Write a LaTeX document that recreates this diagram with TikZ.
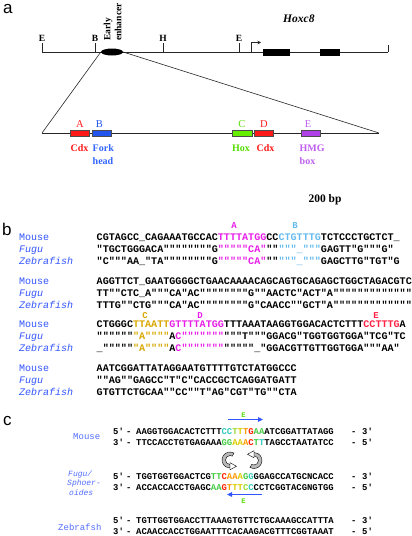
\documentclass[tikz,border=0pt]{standalone}
\usepackage{fontspec}
\setmainfont{Liberation Serif}
\setsansfont{Liberation Sans}
\setmonofont{Liberation Mono}
\usetikzlibrary{arrows.meta,shapes.geometric}
\definecolor{spblue}{HTML}{3355FF}
\definecolor{seqmag}{HTML}{E81EE8}
\definecolor{seqlb}{HTML}{66BBEE}
\definecolor{seqgold}{HTML}{D8A800}
\definecolor{seqred}{HTML}{FF2244}
\definecolor{boxred}{HTML}{FF1A1A}
\definecolor{boxblue}{HTML}{2255EE}
\definecolor{boxgreen}{HTML}{66EE00}
\definecolor{boxpurple}{HTML}{B040E8}
\definecolor{lblblue}{HTML}{3366FF}
\definecolor{lblgreen}{HTML}{55DD00}
\definecolor{lblpurple}{HTML}{C060F0}
\definecolor{ccyan}{HTML}{33CCBB}
\definecolor{clime}{HTML}{99DD33}
\definecolor{cyel}{HTML}{DDCC00}
\definecolor{corg}{HTML}{FF9900}
\definecolor{cred}{HTML}{FF2200}
\definecolor{cgrn}{HTML}{44CC44}
\definecolor{arrblue}{HTML}{3355FF}
\newcommand{\sqM}[1]{\textcolor{seqmag}{#1}}
\newcommand{\sqL}[1]{\textcolor{seqlb}{#1}}
\newcommand{\sqG}[1]{\textcolor{seqgold}{#1}}
\newcommand{\sqR}[1]{\textcolor{seqred}{#1}}
\newcommand{\ck}[2]{\textcolor{#1}{#2}}
\tikzset{
  gline/.style={line width=0.6pt, black!85},
  rtick/.style={gline},
  toplbl/.style={anchor=base, inner sep=0, font=\fontsize{9.5}{11}\selectfont\bfseries},
  exon/.style={fill=black, draw=black},
  tfbox/.style={draw=black!70, line width=0.5pt},
  boxletter/.style={inner sep=0, font=\fontsize{10.5}{12}\selectfont},
  tflbl/.style={anchor=base west, inner sep=0, font=\fontsize{10}{12}\selectfont\bfseries},
  panel/.style={anchor=base west, inner sep=0, font=\fontsize{17}{20}\selectfont\sffamily},
  seqb/.style={anchor=base west, inner sep=0, font=\fontsize{10.1}{12}\selectfont\ttfamily\bfseries},
  seqc/.style={anchor=base west, inner sep=0, font=\fontsize{8.9}{11}\selectfont\ttfamily\bfseries},
  spb/.style={anchor=base west, inner sep=0, text=spblue, font=\fontsize{10}{12}\selectfont\ttfamily},
  spbi/.style={spb, font=\fontsize{10}{12}\selectfont\ttfamily\itshape},
  spc/.style={anchor=base west, inner sep=0, text=spblue!85, font=\fontsize{9}{11}\selectfont\ttfamily},
  spci/.style={anchor=base west, inner sep=0, text=spblue!85, font=\fontsize{8}{9.5}\selectfont\ttfamily\itshape},
  seglbl/.style={inner sep=0, font=\fontsize{9}{11}\selectfont\ttfamily\bfseries},
  elbl/.style={inner sep=0, text=lblgreen, font=\fontsize{7}{8}\selectfont\ttfamily\bfseries},
  bluearrow/.style={arrblue, line width=1pt, -{Triangle[length=5pt,width=4.5pt]}},
  swaparrow/.pic={
    \filldraw[fill=gray!55, draw=black, line width=0.4pt]
      (-60:8) arc[start angle=-60, end angle=-270, radius=8]
      -- (-270:4.5) arc[start angle=-270, end angle=-60, radius=4.5] -- cycle;
    \filldraw[fill=white, draw=black, line width=0.4pt]
      (0,9.8) -- (0,2.7) -- (6.5,6.25) -- cycle;
  }
}
\begin{document}
\begin{tikzpicture}[x=1pt,y=-1pt]
\useasboundingbox (0,0) rectangle (412,536);
\fill[white] (0,0) rectangle (412,536);

% ---------------- panel a ----------------
\node[panel] (pa) at (3,13) {a};
\node[anchor=base west, inner sep=0, font=\fontsize{11.5}{13}\selectfont\bfseries\itshape] (hox) at (283,22) {Hoxc8};

\coordinate (mL) at (42,52);
\coordinate (mR) at (388,52);
\draw[gline] (mL) -- (mR);
\coordinate (tE1) at (42,43);
\coordinate (tB) at (95,43);
\coordinate (tH) at (163,43);
\coordinate (tE2) at (239,43);
\coordinate (tEnd) at (388,45);
\draw[rtick] (tE1) -- (42,52);
\draw[rtick] (tB) -- (95,52);
\draw[rtick] (tH) -- (163,52);
\draw[rtick] (tE2) -- (239,52);
\draw[rtick] (tEnd) -- (mR);
\node[toplbl] (lE1) at (42,41.5) {E};
\node[toplbl] (lB) at (95,41.5) {B};
\node[toplbl] (lH) at (163,41.5) {H};
\node[toplbl] (lE2) at (239,41.5) {E};

\coordinate (prS) at (251,52);
\coordinate (prE) at (261,42.5);
\draw[gline, -{Stealth[length=3.5pt,width=3.5pt]}] (prS) |- (prE);
\node[exon, minimum width=26pt, minimum height=6.3pt, inner sep=0, anchor=north west] (ex1) at (263,49) {};
\node[exon, minimum width=19pt, minimum height=6.3pt, inner sep=0, anchor=north west] (ex2) at (320,49) {};

\node[ellipse, fill=black, minimum width=22pt, minimum height=7pt, inner sep=0] (enh) at (112,52) {};
\node[rotate=90, anchor=west, align=left, inner sep=0, font=\fontsize{9.5}{11}\selectfont\bfseries] (enhlbl) at (112.5,41) {Early\\enhancer};

\coordinate (lL) at (42,133);
\coordinate (lR) at (379,133);
\draw[gline] (enh.west) -- (lL);
\draw[gline] (enh.east) -- (lR);
\draw[gline] (lL) -- (lR);

\node[tfbox, fill=boxred, minimum width=19pt, minimum height=6pt, inner sep=0, anchor=north west] (bA) at (70,130) {};
\node[tfbox, fill=boxblue, minimum width=18.5pt, minimum height=6pt, inner sep=0, anchor=north west] (bB) at (92,130) {};
\node[tfbox, fill=boxgreen, minimum width=19.5pt, minimum height=6pt, inner sep=0, anchor=north west] (bC) at (232,130) {};
\node[tfbox, fill=boxred, minimum width=19pt, minimum height=6pt, inner sep=0, anchor=north west] (bD) at (254,130) {};
\node[tfbox, fill=boxpurple, minimum width=19pt, minimum height=6pt, inner sep=0, anchor=north west] (bE) at (301,130) {};

\node[boxletter, text=boxred] (kA) at (80,124) {A};
\node[boxletter, text=boxblue] (kB) at (99.5,124) {B};
\node[boxletter, text=lblgreen] (kC) at (242,124) {C};
\node[boxletter, text=boxred] (kD) at (264,124) {D};
\node[boxletter, text=lblpurple] (kE) at (308,124) {E};

\node[tflbl, text=boxred] (cdx1) at (70.5,151) {Cdx};
\node[tflbl, text=lblblue, align=left] (fork) at (92.5,151) {Fork};
\node[tflbl, text=lblblue] (head) at (92.5,164) {head};
\node[tflbl, text=lblgreen] (hoxl) at (232,151) {Hox};
\node[tflbl, text=boxred] (cdx2) at (256.5,151) {Cdx};
\node[tflbl, text=lblpurple] (hmg) at (299.5,151) {HMG};
\node[tflbl, text=lblpurple] (boxl) at (299.5,164) {box};

\node[anchor=base, inner sep=0, font=\fontsize{11.5}{13}\selectfont\bfseries] (bp) at (325,202) {200 bp};

% ---------------- panel b ----------------
\node[panel] (pb) at (2,235) {b};

\node[seglbl, text=seqmag] (sA) at (234,226) {A};
\node[seglbl, text=seqlb] (sB) at (295,226) {B};
\node[spb] (m1) at (19,240.5) {Mouse};
\node[spbi] (f1) at (19,252.5) {Fugu};
\node[spbi] (z1) at (19,264.5) {Zebrafish};
\node[seqb] (ms1) at (96.5,240.5) {CGTAGCC\_CAGAAATGCCAC\sqM{TTTTATGG}CC\sqL{CTGTTTG}TCTCCCTGCTCT\_};
\node[seqb] (fs1) at (96.5,252.5) {"TGCTGGGACA""""""""G\sqM{"""""CA"}""\sqL{"""\_"""}GAGTT"G"""G"};
\node[seqb] (zs1) at (96.5,264.5) {"C"""AA\_"TA""""""""G\sqM{"""""CA"}""\sqL{"""\_"""}GAGCTTG"TGT"G};

\node[spb] (m2) at (19,284.5) {Mouse};
\node[spbi] (f2) at (19,296.5) {Fugu};
\node[spbi] (z2) at (19,308.5) {Zebrafish};
\node[seqb] (ms2) at (96.5,284.5) {AGGTTCT\_GAATGGGGCTGAACAAAACAGCAGTGCAGAGCTGGCTAGACGTC};
\node[seqb] (fs2) at (96.5,296.5) {TT""CTC\_A"""CA"AC""""""""G""AACTC"ACT"A"""""""""""""};
\node[seqb] (zs2) at (96.5,308.5) {TTTG""CTG"""CA"AC""""""""G"CAACC""GCT"A"""""""""""""};

\node[seglbl, text=seqgold] (sC) at (145,315.5) {C};
\node[seglbl, text=seqmag] (sD) at (200,315.5) {D};
\node[seglbl, text=seqred] (sE) at (376,315.5) {E};
\node[spb] (m3) at (19,327.5) {Mouse};
\node[spbi] (f3) at (19,339.5) {Fugu};
\node[spbi] (z3) at (19,351.5) {Zebrafish};
\node[seqb] (ms3) at (96.5,327.5) {CTGGGC\sqG{TTAATT}\sqM{GTTTTATGG}TTTAAATAAGGTGGACACTCTTT\sqR{CCTTTG}A};
\node[seqb] (fs3) at (96.5,339.5) {""""""\sqG{"A""""}A\sqM{C"""""""}"""T"""GGACG"TGGTGGTGGA"TCG"TC};
\node[seqb] (zs3) at (96.5,351.5) {\_"""""\sqG{"A""""}A\sqM{C"""""""}"""""\_"GGACGTTGTTGGTGGA"""AA"};

\node[spb] (m4) at (19,371.5) {Mouse};
\node[spbi] (f4) at (19,383.5) {Fugu};
\node[spbi] (z4) at (19,395.5) {Zebrafish};
\node[seqb] (ms4) at (96.5,371.5) {AATCGGATTATAGGAATGTTTTGTCTATGGCCC};
\node[seqb] (fs4) at (96.5,383.5) {""AG""GAGCC"T"C"CACCGCTCAGGATGATT};
\node[seqb] (zs4) at (96.5,395.5) {GTGTTCTGCAA""CC""T"AG"CGT"TG""CTA};

% ---------------- panel c ----------------
\node[panel] (pc) at (3,425) {c};

\coordinate (eTS) at (228,419.5);
\coordinate (eTE) at (263,419.5);
\draw[bluearrow] (eTS) -- (eTE);
\node[elbl] (eT) at (243.5,415) {E};

\node[spc] (cm) at (73,439.5) {Mouse};
\node[seqc] (p1a) at (113,434) {5'};
\node[seqc] (d1a) at (126,434) {-};
\node[seqc] (cms1) at (136,434) {AAGGTGGACACTCTTT\ck{ccyan}{C}\ck{ccyan}{C}\ck{clime}{T}\ck{cyel}{T}\ck{corg}{T}\ck{cred}{G}\ck{cgrn}{A}\ck{cgrn}{A}ATCGGATTATAGG};
\node[seqc] (d1b) at (351,434) {-};
\node[seqc] (p1b) at (362,434) {3'};
\node[seqc] (p2a) at (113,445) {3'};
\node[seqc] (d2a) at (126,445) {-};
\node[seqc] (cms2) at (136,445) {TTCCACCTGTGAGAAA\ck{cgrn}{G}\ck{cgrn}{G}\ck{cyel}{A}\ck{cyel}{A}\ck{corg}{A}\ck{cred}{C}\ck{cgrn}{T}\ck{ccyan}{T}TAGCCTAATATCC};
\node[seqc] (d2b) at (351,445) {-};
\node[seqc] (p2b) at (362,445) {5'};

\pic (arrL) at (230,460) {swaparrow};
\pic[rotate=180] (arrR) at (254,460.5) {swaparrow};

\node[spci] (cf1) at (68,476) {Fugu/};
\node[spci] (cf2) at (67,485.5) {Sphoer-};
\node[spci] (cf3) at (69,495) {oides};
\node[seqc] (p3a) at (113,479) {5'};
\node[seqc] (d3a) at (126,479) {-};
\node[seqc] (cfs1) at (136,479) {TGGTGGTGGACTCG\ck{cgrn}{T}\ck{cgrn}{T}\ck{cred}{C}\ck{corg}{A}\ck{corg}{A}\ck{cyel}{A}\ck{cgrn}{G}\ck{ccyan}{G}GGAGCCATGCNCACC};
\node[seqc] (d3b) at (351,479) {-};
\node[seqc] (p3b) at (362,479) {3'};
\node[seqc] (p4a) at (113,490) {3'};
\node[seqc] (d4a) at (126,490) {-};
\node[seqc] (cfs2) at (136,490) {ACCACCACCTGAGC\ck{cgrn}{A}\ck{cgrn}{A}\ck{cred}{G}\ck{corg}{T}\ck{cyel}{T}\ck{cyel}{T}\ck{clime}{C}\ck{ccyan}{C}CCTCGGTACGNGTGG};
\node[seqc] (d4b) at (351,490) {-};
\node[seqc] (p4b) at (362,490) {5'};

\coordinate (eBS) at (262,494.5);
\coordinate (eBE) at (227,494.5);
\draw[bluearrow] (eBS) -- (eBE);
\node[elbl] (eB) at (243.5,501) {E};

\node[spc] (cz) at (58,530) {Zebrafsh};
\node[seqc] (p5a) at (113,523) {5'};
\node[seqc] (d5a) at (126,523) {-};
\node[seqc] (czs1) at (136,523) {TGTTGGTGGACCTTAAAGTGTTCTGCAAAGCCATTTA};
\node[seqc] (d5b) at (351,523) {-};
\node[seqc] (p5b) at (362,523) {3'};
\node[seqc] (p6a) at (113,534) {3'};
\node[seqc] (d6a) at (126,534) {-};
\node[seqc] (czs2) at (136,534) {ACAACCACCTGGAATTTCACAAGACGTTTCGGTAAAT};
\node[seqc] (d6b) at (351,534) {-};
\node[seqc] (p6b) at (362,534) {5'};
\end{tikzpicture}
\end{document}
